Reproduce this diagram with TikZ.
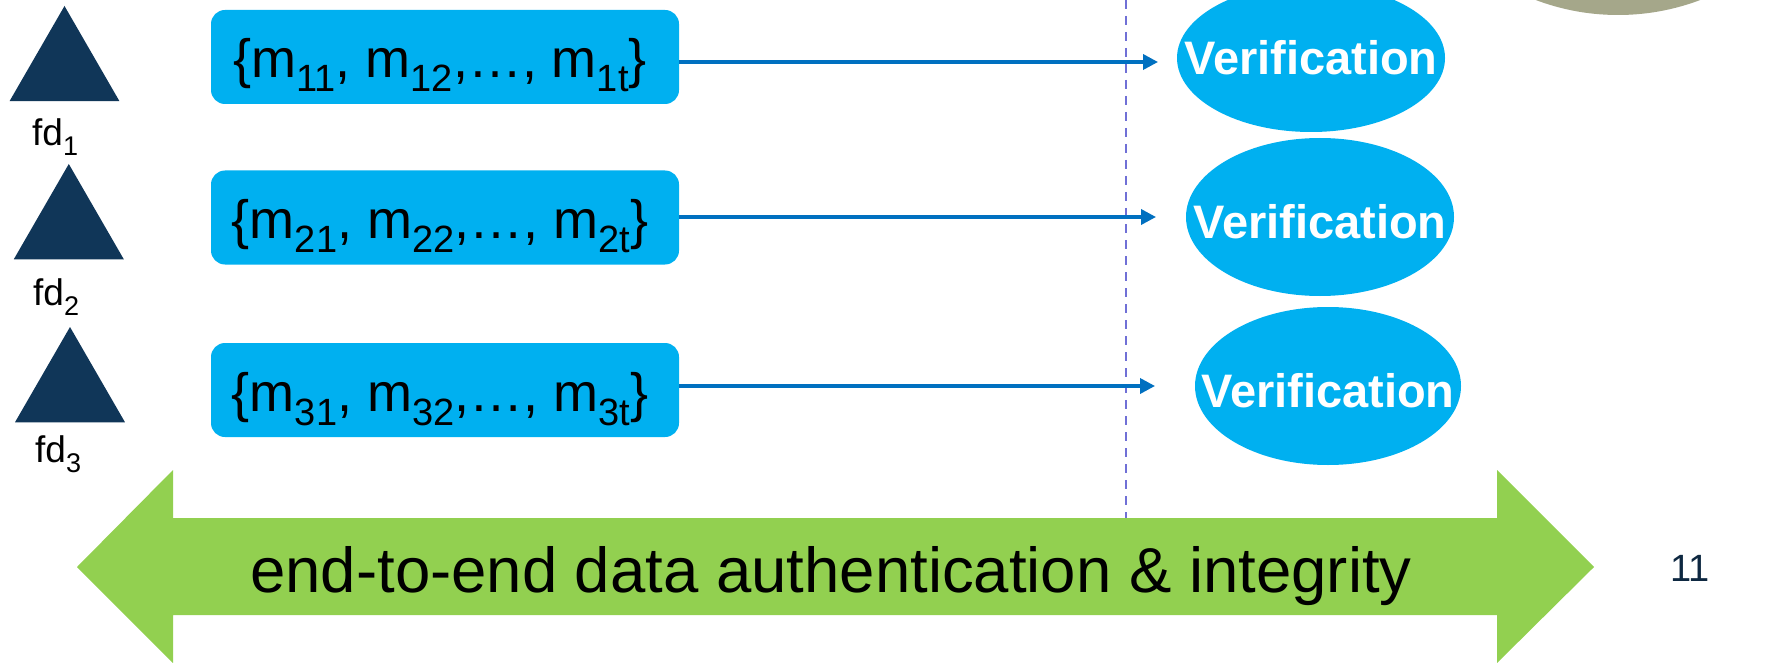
\documentclass[tikz,border=0pt]{standalone}
\usepackage{fontspec}
\setmainfont{Liberation Sans}
\usetikzlibrary{shapes.geometric,arrows.meta}

\definecolor{boxblue}{RGB}{0,176,240}
\definecolor{arrowblue}{RGB}{0,112,192}
\definecolor{navy}{RGB}{16,54,88}
\definecolor{leafgreen}{RGB}{146,208,80}
\definecolor{dashpurple}{RGB}{112,112,214}
\definecolor{olivegray}{RGB}{165,167,138}
\definecolor{pagenum}{RGB}{14,40,65}

% lowered, smaller index text: #1 text, #2 drop, #3 size
\newcommand\lowsub[3]{\raisebox{-#2}{\fontsize{#3}{#3}\selectfont #1}}
\newcommand\msub[1]{\lowsub{#1}{14pt}{38pt}}
\newcommand\fdsub[1]{\lowsub{#1}{10pt}{27pt}}
% white label set on a baseline #1 below the ellipse centre
\newcommand\veriftext[1]{\makebox[0pt]{\raisebox{-#1}[0pt][0pt]{\fontsize{47pt}{47pt}\selectfont\bfseries\color{white}Verification}}}
\newcommand\msgset[1]{\{m\msub{#11}, m\msub{#12},…, m\msub{#1t}\}\hspace*{10pt}}

\begin{document}
\begin{tikzpicture}[x=1pt,y=-1pt,
  device/.style={regular polygon, regular polygon sides=3, minimum size=127pt,
    inner sep=0pt, outer sep=0pt, fill=navy},
  devlabel/.style={anchor=base west, inner sep=0pt, font=\fontsize{37pt}{37pt}\selectfont},
  msgbox/.style={fill=boxblue, rounded corners=14pt, minimum width=468pt,
    minimum height=94pt, inner sep=0pt, text height=42pt, text depth=0pt,
    font=\fontsize{54pt}{54pt}\selectfont},
  verif/.style={ellipse, fill=boxblue, inner sep=0pt, minimum height=158pt},
  flow/.style={draw=arrowblue, line width=3.5pt,
    -{Triangle[length=15pt,width=15pt]}},
  boundary/.style={draw=dashpurple, line width=2pt, dash pattern=on 9pt off 7pt}]

\useasboundingbox (0,0) rectangle (1769,663);
\clip (0,0) rectangle (1769,663);
\fill[white] (0,0) rectangle (1769,663);

% partly visible disc at the top right
\fill[olivegray] (1618,-217) circle[radius=232pt];

% trust boundary
\coordinate (dtop) at (1126,0);
\coordinate (dbot) at (1126,518);
\draw[boundary] (dtop) -- (dbot);

% field devices
\node[device] (tri1) at (64.5,69.5) {};
\node[device] (tri2) at (68.8,227.5) {};
\node[device] (tri3) at (70,390.5) {};
\node[devlabel] (fd1) at (32,146) {fd\fdsub{1}};
\node[devlabel] (fd2) at (33,305) {fd\fdsub{2}};
\node[devlabel] (fd3) at (35,462) {fd\fdsub{3}};

% message sequences
\node[msgbox] (b1) at (445,57) {\msgset{1}};
\node[msgbox] (b2) at (445,217.5) {\msgset{2}};
\node[msgbox] (b3) at (445,390) {\msgset{3}};

% verification endpoints
\node[verif, minimum width=268pt, minimum height=148pt] (v1) at (1311,58) {\veriftext{17pt}};
\node[verif, minimum width=268pt] (v2) at (1320,217) {\veriftext{21pt}};
\node[verif, minimum width=266pt] (v3) at (1328,386) {\veriftext{21pt}};

% message flows
\coordinate (t1) at (1158,62);
\coordinate (t2) at (1156,217);
\coordinate (t3) at (1155,386);
\draw[flow] (b1.east |- t1) -- (t1);
\draw[flow] (b2.east |- t2) -- (t2);
\draw[flow] (b3.east |- t3) -- (t3);

% end-to-end double arrow
\fill[leafgreen] (77,567) -- (173,470) -- (173,518) -- (1497,518) -- (1497,470)
  -- (1594,567) -- (1497,663) -- (1497,615) -- (173,615) -- (173,663) -- cycle;
\node[anchor=base, inner sep=0pt, font=\fontsize{63.5pt}{63.5pt}\selectfont] (e2e)
  at (831,592) {end-to-end data authentication \& integrity};

% page number
\node[anchor=base, inner sep=0pt, text=pagenum, font=\fontsize{38pt}{38pt}\selectfont]
  (pg) at (1690,581) {11};
\end{tikzpicture}
\end{document}
